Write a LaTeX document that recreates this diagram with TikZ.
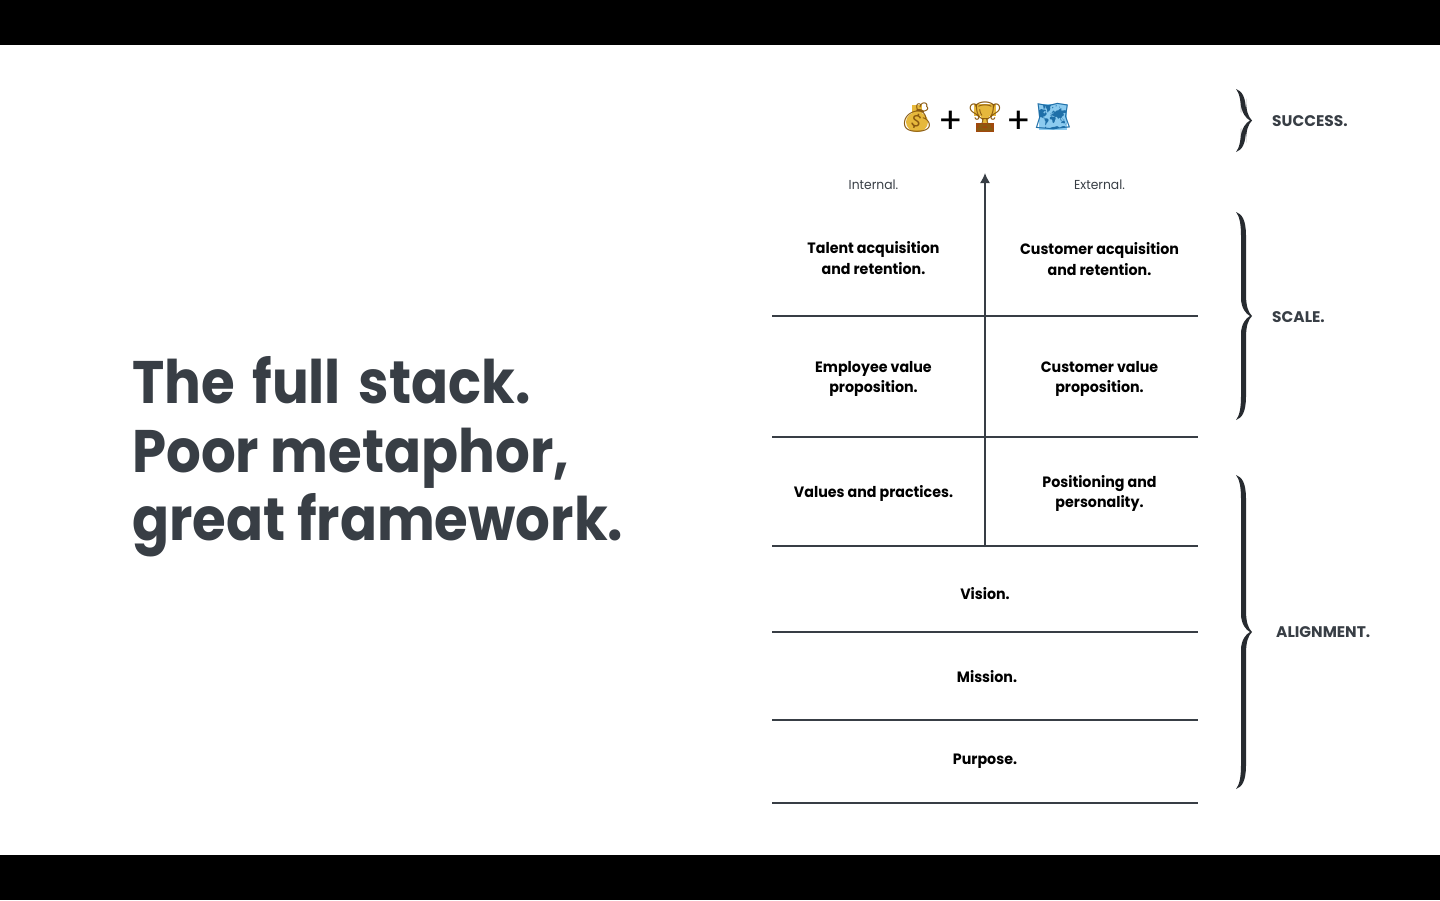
\documentclass[tikz,border=0pt]{standalone}
\usepackage{fontspec}
\setmainfont{Poppins}
\newfontfamily\titlefont[FakeStretch=0.91]{Poppins}
\newfontfamily\cellfont[FakeStretch=0.95]{Poppins}
\newfontfamily\emojifont{Noto Emoji}
\usetikzlibrary{arrows.meta}
\definecolor{slate}{HTML}{383E45}
\definecolor{gold}{HTML}{8A5A10}
\definecolor{goldfill}{HTML}{E6B83C}
\definecolor{mapblue}{HTML}{1F6FA8}
\definecolor{mapfill}{HTML}{8CCBEF}
\newcommand{\bracefill}[3]{% x, top, bottom; the middle is worked out from them
\pgfmathsetmacro{\bracemid}{(#2+#3)/2}
\fill[slate!70!black] (#1,#2) .. controls ({#1+6},{#2+2}) and ({#1+10},{#2+8}) .. ({#1+10},{#2+24})
  -- ({#1+10},{\bracemid-22}) .. controls ({#1+10},{\bracemid-10}) and ({#1+12},{\bracemid-4}) .. ({#1+16},\bracemid)
  .. controls ({#1+12},{\bracemid+4}) and ({#1+10},{\bracemid+10}) .. ({#1+10},{\bracemid+22})
  -- ({#1+10},{#3-24}) .. controls ({#1+10},{#3-8}) and ({#1+6},{#3-2}) .. (#1,#3)
  .. controls ({#1+3},{#3-4}) and ({#1+5},{#3-10}) .. ({#1+5},{#3-24})
  -- ({#1+5},{\bracemid+18}) .. controls ({#1+5},{\bracemid+8}) and ({#1+10},{\bracemid+2}) .. ({#1+14},\bracemid)
  .. controls ({#1+10},{\bracemid-2}) and ({#1+5},{\bracemid-8}) .. ({#1+5},{\bracemid-18})
  -- ({#1+5},{#2+24}) .. controls ({#1+5},{#2+10}) and ({#1+3},{#2+4}) .. (#1,#2) -- cycle;}
\tikzset{
  cell/.style={font=\cellfont\fontsize{15}{20.5}\selectfont\bfseries, align=center, text=black, inner sep=0pt},
  side/.style={font=\cellfont\fontsize{13}{16}\selectfont, text=slate, inner sep=0pt},
  tag/.style={font=\fontsize{15.4}{18}\selectfont\bfseries, text=slate, inner sep=0pt, anchor=west},
  rule/.style={draw=slate, line width=1.4pt},
  emoji/.style={font=\emojifont\fontsize{29}{29}\selectfont, inner sep=0pt},
  plus/.style={font=\fontsize{36}{36}\selectfont, text=black, inner sep=0pt}
}
\begin{document}
\begin{tikzpicture}[x=1pt, y=-1pt]
\useasboundingbox (0,0) rectangle (1440,900);
\fill[black] (0,0) rectangle (1440,45);
\fill[black] (0,855) rectangle (1440,900);
% heading
\node[anchor=west, align=left, inner sep=0pt, text=slate, font=\titlefont\fontsize{60}{68.5}\selectfont\bfseries] (title) at (132,457) {The\hspace{6pt} full\hspace{6pt} stack.\\Poor metaphor,\\great framework.};
% top row, colour patches under the emoji
\fill[goldfill] (917,122) ellipse (11 and 10);
\fill[goldfill] (912,105) rectangle (922,113);
\fill[goldfill] (974,104) rectangle (996,116);
\fill[goldfill] (980,114) -- (990,114) -- (987,123) -- (983,123) -- cycle;
\fill[gold!80!red] (976,123) rectangle (994,132);
\fill[mapfill] (1039,104) rectangle (1067,130);
\node[emoji, text=gold] (bag) at (917,118) {\symbol{"1F4B0}};
\node[plus] (plusa) at (950.5,122) {+};
\node[emoji, text=gold] (cup) at (985,117) {\symbol{"1F3C6}};
\node[plus] (plusb) at (1019,122) {+};
\node[emoji, text=mapblue] (atlas) at (1053,117) {\symbol{"1F5FA}};
\node[side] (internal) at (873.5,184.5) {Internal.};
\node[side] (external) at (1099.5,184.5) {External.};
% rules of the stack
\foreach \name/\ypos in {scale/316, prop/437, align/546, vision/632, mission/720, purpose/803} {
  \coordinate (\name L) at (772,\ypos);
  \coordinate (\name R) at (1198,\ypos);
  \draw[rule] (\name L) -- (\name R);
}
\coordinate (axistop) at (985,173);
\coordinate (axisbase) at (985,547);
\draw[rule, -{Latex[length=10pt, width=10pt]}] (axisbase) -- (axistop);
% cells
\node[cell] (talent) at (873.5,258) {Talent acquisition\\and retention.};
\node[cell] (customer) at (1099.5,259) {Customer acquisition\\and retention.};
\node[cell] (employee) at (873.5,379) {Employee value\\proposition.};
\node[cell] (custvalue) at (1099.5,379) {Customer value\\proposition.};
\node[cell] (values) at (873.5,493) {Values and practices.};
\node[cell] (position) at (1099.5,493.5) {Positioning and\\personality.};
\node[cell] (visiontext) at (985,594) {Vision.};
\node[cell] (missiontext) at (987,677) {Mission.};
\node[cell] (purposetext) at (985,761) {Purpose.};
% braces
\bracefill{1236}{89}{152}
\bracefill{1236}{212}{420}
\bracefill{1236}{475}{789}
\node[tag] (success) at (1272,121) {SUCCESS.};
\node[tag] (scaletag) at (1272,317.5) {SCALE.};
\node[tag] (aligntag) at (1276,632.5) {ALIGNMENT.};
\end{tikzpicture}
\end{document}
